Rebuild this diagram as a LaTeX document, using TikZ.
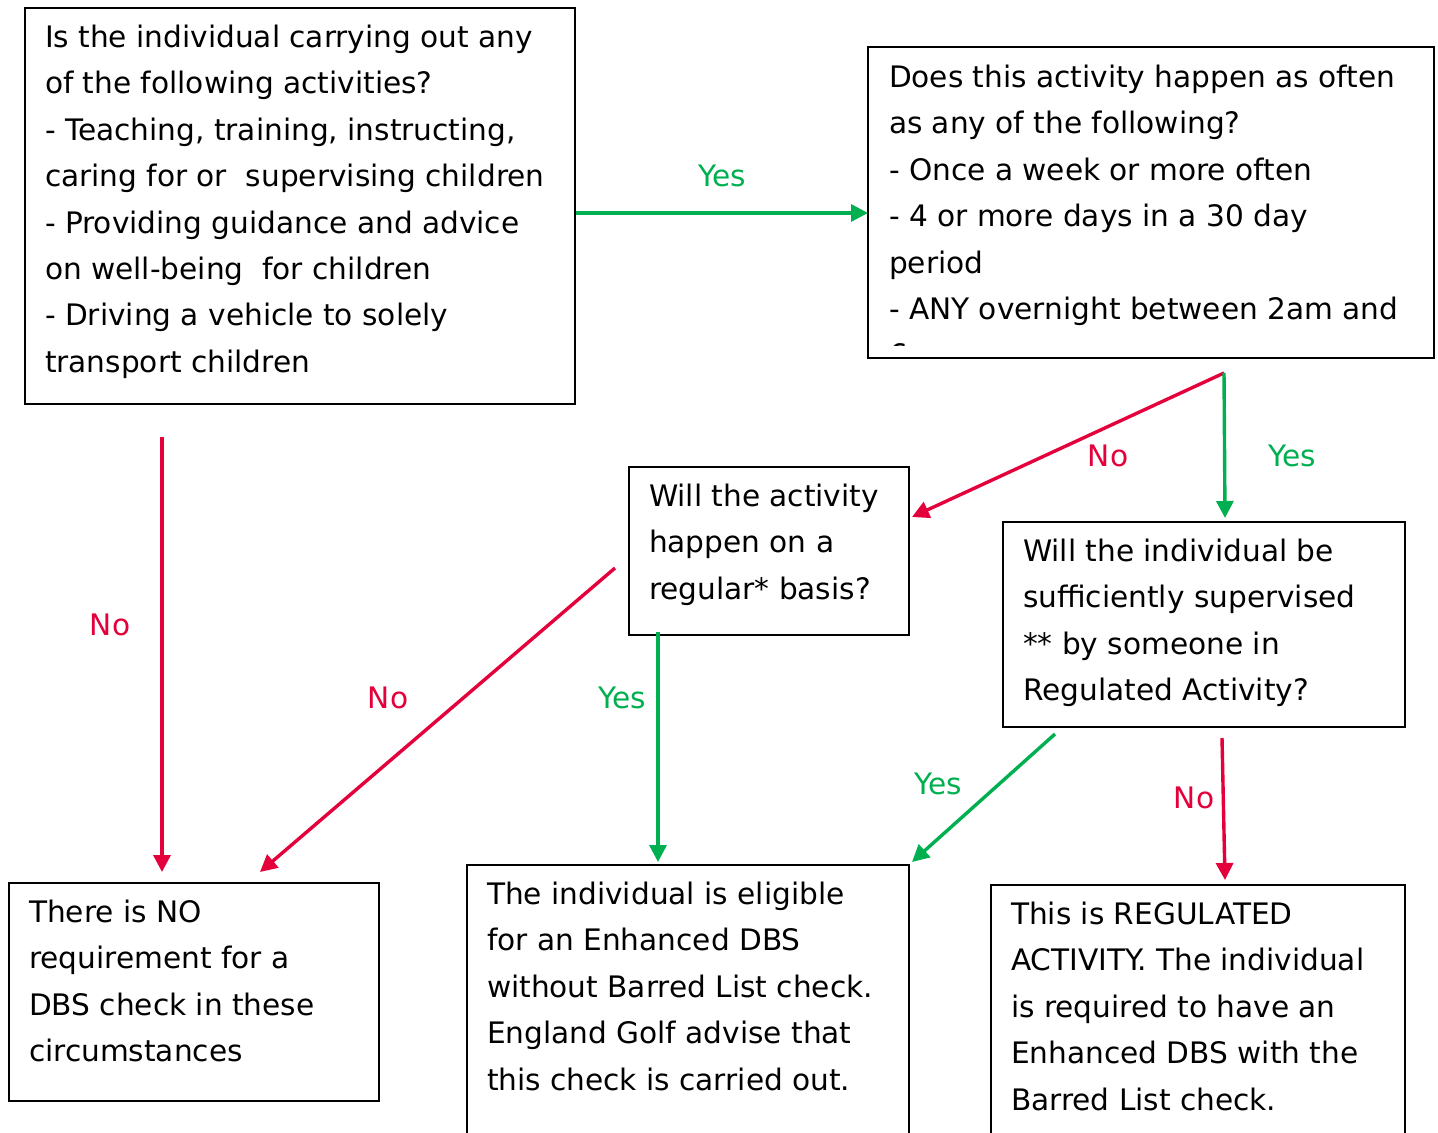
\documentclass[tikz,border=0pt]{standalone}
\usepackage{fontspec}
\setmainfont{DejaVu Sans}
\usetikzlibrary{arrows.meta,calc}
\definecolor{okgreen}{RGB}{0,176,80}
\definecolor{nored}{RGB}{228,0,58}
\tikzset{
  >={Triangle[length=8.5pt,width=8.5pt]},
  box/.style={draw=black,line width=1pt,anchor=north west,inner xsep=10pt,
    inner ysep=8.5pt,font=\fontsize{14.8}{23.2}\selectfont},
  yesflow/.style={->,line width=1.7pt,draw=okgreen},
  noflow/.style={->,line width=1.7pt,draw=nored},
  yestag/.style={text=okgreen,font=\fontsize{14.8}{18}\selectfont},
  notag/.style={text=nored,font=\fontsize{14.8}{18}\selectfont},
}

\begin{document}
\begin{tikzpicture}[x=0.5pt,y=-0.5pt]
  \useasboundingbox (0,0) rectangle (1438,1133);
  % questions
  \node[box] (act) at (24,7) {\parbox[t][181pt][t]{255pt}{\raggedright
    Is the individual carrying out any\\
    of the following activities?\\
    - Teaching, training, instructing,\\
    caring for or \ supervising children\\
    - Providing guidance and advice\\
    on well-being \ for children\\
    - Driving a vehicle to solely\\
    transport children}};
  \begin{scope}
    \clip (868,47) rectangle (1432,346);
    \node[box,draw=none] (often) at (868,47) {\parbox[t][137.5pt][t]{262pt}{\raggedright
      Does this activity happen as often\\
      as any of the following?\\
      - Once a week or more often\\
      - 4 or more days in a 30 day\\
      period\\
      - ANY overnight between 2am and\\
      6am}};
  \end{scope}
  \draw[line width=1pt] (often.north west) rectangle (often.south east);
  \node[box] (regular) at (628,466) {\parbox[t][67pt][t]{120pt}{\raggedright
    Will the activity\\
    happen on a\\
    regular* basis?}};
  \node[box] (superv) at (1002,521) {\parbox[t][85.5pt][t]{181pt}{\raggedright
    Will the individual be\\
    sufficiently supervised\\
    {}** by someone in\\
    Regulated Activity?}};
  % outcomes
  \node[box] (none) at (8,882) {\parbox[t][92pt][t]{165pt}{\raggedright
    There is NO\\
    requirement for a\\
    DBS check in these\\
    circumstances}};
  \node[box] (eligible) at (466,864) {\parbox[t][150pt][t]{201pt}{\raggedright
    The individual is eligible\\
    for an Enhanced DBS\\
    without Barred List check.\\
    England Golf advise that\\
    this check is carried out.}};
  \node[box] (regulated) at (990,884) {\parbox[t][150pt][t]{187pt}{\raggedright
    This is REGULATED\\
    ACTIVITY. The individual\\
    is required to have an\\
    Enhanced DBS with the\\
    Barred List check.}};
  % connectors
  \coordinate (a1) at (576,213);
  \coordinate (a2) at (162,437);
  \coordinate (b1) at (1224,373);
  \coordinate (c1) at (615,568);
  \coordinate (c2) at (658,632);
  \coordinate (d1) at (1055,734);
  \coordinate (d2) at (1222,738);
  \draw[yesflow] (a1) -- (a1 -| often.west);
  \draw[noflow] (a2) -- ($(a2 |- none.north)+(0,-10)$);
  \draw[noflow] (b1) -- ($(regular.north east)+(2,51)$);
  \draw[yesflow] (b1) -- ($(b1 |- superv.north)+(1,-3)$);
  \draw[noflow] (c1) -- ($(none.north west)+(252,-10)$);
  \draw[yesflow] (c2) -- ($(c2 |- eligible.north)+(0,-2)$);
  \draw[yesflow] (d1) -- ($(eligible.north east)+(2,-2)$);
  \draw[noflow] (d2) -- ($(regulated.north west)+(235,-4)$);
  % labels
  \node[yestag] (t1) at (722,176) {Yes};
  \node[notag] (t2) at (110,625) {No};
  \node[notag] (t3) at (1108,456) {No};
  \node[yestag] (t4) at (1292,456) {Yes};
  \node[notag] (t5) at (388,698) {No};
  \node[yestag] (t6) at (622,698) {Yes};
  \node[yestag] (t7) at (938,784) {Yes};
  \node[notag] (t8) at (1194,798) {No};
\end{tikzpicture}
\end{document}
